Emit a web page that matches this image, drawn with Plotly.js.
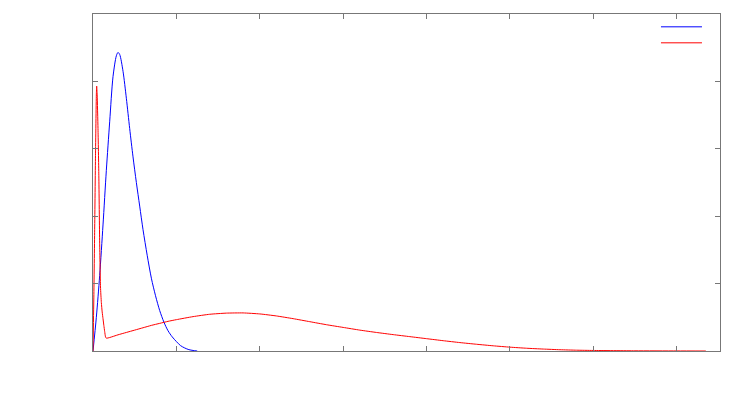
<!DOCTYPE html>
<html>
<head>
<meta charset="utf-8">
<script src="https://cdn.plot.ly/plotly-3.0.1.min.js"></script>
<style>html,body{margin:0;padding:0;background:#fff;}#chart{width:747px;height:393px;}</style>
</head>
<body>
<div id="chart"></div>
<script>
// Blue series
const blueX = [0, 0.04, 0.08, 0.12, 0.16, 0.2, 0.24, 0.28, 0.3, 0.32, 0.36, 0.4, 0.44, 0.48, 0.52, 0.56, 0.6, 0.65, 0.7, 0.75, 0.8, 0.85, 0.9, 0.95, 1.0, 1.05, 1.1, 1.15, 1.2, 1.25];
const blueY = [0, 0.5, 1.12, 1.87, 2.68, 3.4, 4.07, 4.38, 4.43, 4.4, 4.15, 3.75, 3.3, 2.88, 2.5, 2.15, 1.8, 1.42, 1.08, 0.82, 0.6, 0.43, 0.3, 0.21, 0.14, 0.08, 0.045, 0.02, 0.008, 0];
// Red series
const redX = [0, 0.01, 0.02, 0.03, 0.04, 0.044, 0.05, 0.06, 0.07, 0.08, 0.09, 0.1, 0.11, 0.12, 0.13, 0.14, 0.15, 0.16, 0.2, 0.3, 0.4, 0.5, 0.6, 0.7, 0.8, 0.9, 1.0, 1.2, 1.4, 1.6, 1.8, 2.0, 2.2, 2.4, 2.6, 2.8, 3.0, 3.2, 3.4, 3.6, 3.8, 4.0, 4.2, 4.4, 4.6, 4.8, 5.0, 5.2, 5.4, 5.6, 5.8, 6.0, 6.5, 7.0, 7.35];
const redY = [0, 0.8, 1.8, 2.9, 3.8, 3.93, 3.8, 3.3, 2.6, 1.6, 0.95, 0.72, 0.58, 0.48, 0.38, 0.29, 0.21, 0.19, 0.2, 0.24, 0.275, 0.31, 0.345, 0.38, 0.41, 0.44, 0.465, 0.51, 0.545, 0.562, 0.565, 0.55, 0.52, 0.48, 0.435, 0.39, 0.35, 0.31, 0.275, 0.243, 0.213, 0.183, 0.153, 0.125, 0.1, 0.077, 0.057, 0.041, 0.029, 0.019, 0.012, 0.008, 0.003, 0.001, 0];

const axisCommon = {
  showgrid: false, zeroline: false, showticklabels: false,
  showline: true, linecolor: '#777', linewidth: 1, mirror: 'allticks',
  ticks: 'inside', ticklen: 5, tickwidth: 1, tickcolor: '#777'
};

const data = [
  {x: blueX, y: blueY, type: 'scatter', mode: 'lines', name: ' ', legend: 'legend', line: {color: '#0000ff', width: 1, shape: 'spline', smoothing: 0.8}},
  {x: redX, y: redY, type: 'scatter', mode: 'lines', name: ' ', legend: 'legend2', line: {color: '#ff0000', width: 1, shape: 'spline', smoothing: 0.5}}
];

const legendCommon = {xanchor: 'right', yanchor: 'top', bgcolor: 'rgba(0,0,0,0)', itemwidth: 41, font: {size: 8}};

const layout = {
  width: 747, height: 393,
  margin: {l: 93, r: 27, t: 14, b: 42, pad: 0},
  paper_bgcolor: '#fff', plot_bgcolor: '#fff',
  showlegend: true,
  legend: Object.assign({x: 0.992, y: 1.005}, legendCommon),
  legend2: Object.assign({x: 0.992, y: 0.9575}, legendCommon),
  xaxis: Object.assign({range: [0, 7.52], dtick: 1, tick0: 0}, axisCommon),
  yaxis: Object.assign({range: [0, 5.0], dtick: 1, tick0: 0}, axisCommon)
};

Plotly.newPlot('chart', data, layout, {staticPlot: true, displayModeBar: false});
</script>
</body>
</html>
